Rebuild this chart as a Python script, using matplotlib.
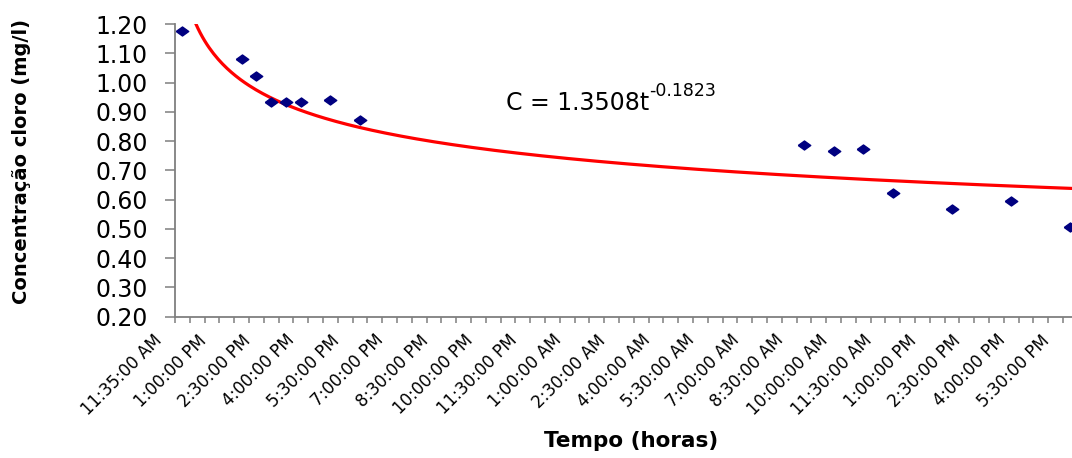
import numpy as np
import matplotlib
matplotlib.use("Agg")
import matplotlib.pyplot as plt
from matplotlib.transforms import ScaledTranslation

# ─────────────────────────────────────────────
# Data
# ─────────────────────────────────────────────
# category index on the time axis (one category = 30 min, first = 11:35 AM)
categoria = [1, 5, 6, 7, 8, 9, 11, 13, 43, 45, 47, 49, 53, 57, 61]
concentracao = [1.177, 1.079, 1.023, 0.933, 0.933, 0.933, 0.939, 0.872,
                0.787, 0.767, 0.772, 0.622, 0.569, 0.594, 0.508]

# labelled categories (every third one)
tick_labels = ["11:35:00 AM", "1:00:00 PM", "2:30:00 PM", "4:00:00 PM", "5:30:00 PM",
               "7:00:00 PM", "8:30:00 PM", "10:00:00 PM", "11:30:00 PM", "1:00:00 AM",
               "2:30:00 AM", "4:00:00 AM", "5:30:00 AM", "7:00:00 AM", "8:30:00 AM",
               "10:00:00 AM", "11:30:00 AM", "1:00:00 PM", "2:30:00 PM", "4:00:00 PM",
               "5:30:00 PM"]

# power trendline shown on the chart: C = a * t^b
coef_a = 1.3508
coef_b = -0.1823

# ─────────────────────────────────────────────
# Figure
# ─────────────────────────────────────────────
W, H = 1072, 458
fig = plt.figure(figsize=(W / 100, H / 100), dpi=100)
ax = fig.add_axes([175 / W, 1 - 316.7 / H, 1 - 175 / W, (316.7 - 24) / H])

x_max = 0.5 + 897 / 14.8

t = np.linspace(1, x_max, 400)
ax.plot(t, coef_a * t ** coef_b, color="red", lw=2.3, zorder=3)

diamond = [(-1, 0), (0, 0.72), (1, 0), (0, -0.72), (-1, 0)]
ax.plot(categoria, concentracao, ls="none", marker=diamond, markersize=9,
        color="#000080", mec="#000080", zorder=4, clip_on=False)

ax.set_xlim(0.5, x_max)
ax.set_ylim(0.2, 1.2)

# ─────────────────────────────────────────────
# Axes styling
# ─────────────────────────────────────────────
axis_col = "#7f7f7f"
for side in ["top", "right"]:
    ax.spines[side].set_visible(False)
for side in ["left", "bottom"]:
    ax.spines[side].set_color(axis_col)
    ax.spines[side].set_linewidth(1.3)

yt = np.arange(0.2, 1.21, 0.1)
ax.set_yticks(yt)
ax.set_yticklabels([f"{v:.2f}" for v in yt])
ax.tick_params(axis="y", direction="out", length=7.5, width=1.1, color=axis_col,
               labelsize=17, pad=12)

label_pos = [1 + 3 * i for i in range(len(tick_labels))]
ax.set_xticks(label_pos)
ax.set_xticklabels(tick_labels, rotation=45, ha="right", va="top")
ax.set_xticks(np.arange(0.5, x_max, 1), minor=True)
ax.tick_params(axis="x", which="major", length=0, labelsize=12, pad=10.5)
ax.tick_params(axis="x", which="minor", direction="out", length=4.5, width=1.1,
               color=axis_col)
shift = ScaledTranslation(-0.17, 0, fig.dpi_scale_trans)
for lab in ax.get_xticklabels():
    lab.set_transform(lab.get_transform() + shift)

# equation
eq = ax.text((506 - 175) / 897, (316.7 - 110) / 292.7, "C = 1.3508t",
             transform=ax.transAxes, fontsize=17, va="baseline", ha="left")
ax.annotate("-0.1823", xy=(1.0, 0.62), xycoords=eq, fontsize=12.5,
            va="bottom", ha="left")

# axis titles
fig.text(22 / W, 1 - 162 / H, "Concentração cloro (mg/l)", rotation=90,
         ha="center", va="center", fontsize=14, fontweight="bold")
fig.text(631 / W, 1 - 441 / H, "Tempo (horas)", ha="center", va="center",
         fontsize=15.5, fontweight="bold")

fig.savefig("out.png", dpi=100)
